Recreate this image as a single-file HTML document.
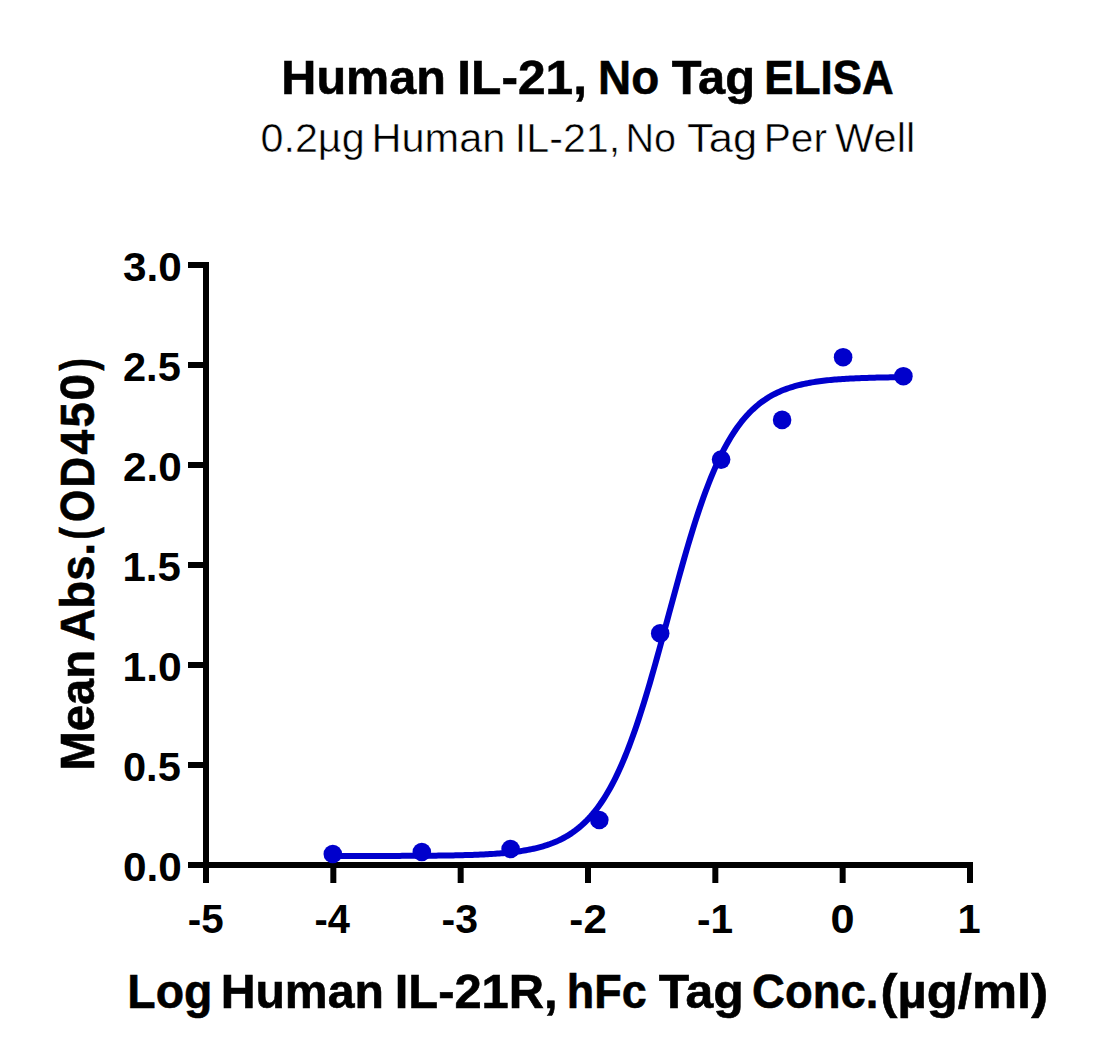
<!DOCTYPE html>
<html><head><meta charset="utf-8"><style>
html,body{margin:0;padding:0;background:#fff;}
body{width:1102px;height:1064px;overflow:hidden;}
svg{display:block;}
text{font-family:"Liberation Sans",sans-serif;fill:#000;}
</style></head><body>
<svg width="1102" height="1064" viewBox="0 0 1102 1064">
<text x="281.34" y="94.3" font-size="48.7" font-weight="bold" stroke="#000" stroke-width="0.6" textLength="164.58" lengthAdjust="spacingAndGlyphs">Human</text>
<text x="457.27" y="94.3" font-size="48.7" font-weight="bold" stroke="#000" stroke-width="0.6" textLength="129.70" lengthAdjust="spacingAndGlyphs">IL-21,</text>
<text x="598.07" y="94.3" font-size="48.7" font-weight="bold" stroke="#000" stroke-width="0.6" textLength="61.13" lengthAdjust="spacingAndGlyphs">No</text>
<text x="671.83" y="94.3" font-size="48.7" font-weight="bold" stroke="#000" stroke-width="0.6" textLength="83.14" lengthAdjust="spacingAndGlyphs">Tag</text>
<text x="764.37" y="94.3" font-size="48.7" font-weight="bold" stroke="#000" stroke-width="0.6" textLength="129.28" lengthAdjust="spacingAndGlyphs">ELISA</text>
<text x="260.47" y="151.5" font-size="40" stroke="#fff" stroke-width="0.5" textLength="104.12" lengthAdjust="spacingAndGlyphs">0.2µg</text>
<text x="371.41" y="151.5" font-size="40" stroke="#fff" stroke-width="0.5" textLength="133.96" lengthAdjust="spacingAndGlyphs">Human</text>
<text x="514.71" y="151.5" font-size="40" stroke="#fff" stroke-width="0.5" textLength="105.57" lengthAdjust="spacingAndGlyphs">IL-21,</text>
<text x="625.46" y="151.5" font-size="40" stroke="#fff" stroke-width="0.5" textLength="50.59" lengthAdjust="spacingAndGlyphs">No</text>
<text x="687.07" y="151.5" font-size="40" stroke="#fff" stroke-width="0.5" textLength="70.26" lengthAdjust="spacingAndGlyphs">Tag</text>
<text x="763.74" y="151.5" font-size="40" stroke="#fff" stroke-width="0.5" textLength="63.29" lengthAdjust="spacingAndGlyphs">Per</text>
<text x="835.13" y="151.5" font-size="40" stroke="#fff" stroke-width="0.5" textLength="80.02" lengthAdjust="spacingAndGlyphs">Well</text>
<text x="127.34" y="1008.3" font-size="48.8" font-weight="bold" stroke="#000" stroke-width="0.6" textLength="85.05" lengthAdjust="spacingAndGlyphs">Log</text>
<text x="220.66" y="1008.3" font-size="48.8" font-weight="bold" stroke="#000" stroke-width="0.6" textLength="163.24" lengthAdjust="spacingAndGlyphs">Human</text>
<text x="394.75" y="1008.3" font-size="48.8" font-weight="bold" stroke="#000" stroke-width="0.6" textLength="162.87" lengthAdjust="spacingAndGlyphs">IL-21R,</text>
<text x="566.85" y="1008.3" font-size="48.8" font-weight="bold" stroke="#000" stroke-width="0.6" textLength="79.93" lengthAdjust="spacingAndGlyphs">hFc</text>
<text x="658.69" y="1008.3" font-size="48.8" font-weight="bold" stroke="#000" stroke-width="0.6" textLength="85.01" lengthAdjust="spacingAndGlyphs">Tag</text>
<text x="752.09" y="1008.3" font-size="48.8" font-weight="bold" stroke="#000" stroke-width="0.6" textLength="126.28" lengthAdjust="spacingAndGlyphs">Conc.</text>
<text x="880.64" y="1008.3" font-size="48.8" font-weight="bold" stroke="#000" stroke-width="0.6" textLength="167.42" lengthAdjust="spacingAndGlyphs">(µg/ml)</text>
<text transform="translate(94.1,770.56) rotate(-90)" font-size="48.8" font-weight="bold" stroke="#000" stroke-width="0.6" textLength="120.69" lengthAdjust="spacingAndGlyphs">Mean</text>
<text transform="translate(94.1,641.59) rotate(-90)" font-size="48.8" font-weight="bold" stroke="#000" stroke-width="0.6" textLength="98.81" lengthAdjust="spacingAndGlyphs">Abs.</text>
<text transform="translate(94.1,539.69) rotate(-90)" font-size="48.8" font-weight="bold" stroke="#000" stroke-width="0.6" textLength="12.56" lengthAdjust="spacingAndGlyphs">(</text>
<text transform="translate(94.1,522.12) rotate(-90)" font-size="48.8" font-weight="bold" stroke="#000" stroke-width="0.6" textLength="32.37" lengthAdjust="spacingAndGlyphs">O</text>
<text transform="translate(94.1,487.51) rotate(-90)" font-size="48.8" font-weight="bold" stroke="#000" stroke-width="0.6" textLength="30.43" lengthAdjust="spacingAndGlyphs">D</text>
<text transform="translate(94.1,454.66) rotate(-90)" font-size="48.8" font-weight="bold" stroke="#000" stroke-width="0.6" textLength="24.89" lengthAdjust="spacingAndGlyphs">4</text>
<text transform="translate(94.1,427.56) rotate(-90)" font-size="48.8" font-weight="bold" stroke="#000" stroke-width="0.6" textLength="25.35" lengthAdjust="spacingAndGlyphs">5</text>
<text transform="translate(94.1,400.54) rotate(-90)" font-size="48.8" font-weight="bold" stroke="#000" stroke-width="0.6" textLength="26.57" lengthAdjust="spacingAndGlyphs">0</text>
<text transform="translate(94.1,370.60) rotate(-90)" font-size="48.8" font-weight="bold" stroke="#000" stroke-width="0.6" textLength="12.45" lengthAdjust="spacingAndGlyphs">)</text>
<text x="122.93" y="881.1" font-size="40" font-weight="bold" textLength="58.86" lengthAdjust="spacingAndGlyphs">0.0</text>
<text x="122.97" y="781.1" font-size="40" font-weight="bold" textLength="57.82" lengthAdjust="spacingAndGlyphs">0.5</text>
<text x="122.46" y="681.1" font-size="40" font-weight="bold" textLength="59.31" lengthAdjust="spacingAndGlyphs">1.0</text>
<text x="122.48" y="581.1" font-size="40" font-weight="bold" textLength="58.32" lengthAdjust="spacingAndGlyphs">1.5</text>
<text x="122.94" y="481.1" font-size="40" font-weight="bold" textLength="58.84" lengthAdjust="spacingAndGlyphs">2.0</text>
<text x="122.97" y="381.1" font-size="40" font-weight="bold" textLength="57.82" lengthAdjust="spacingAndGlyphs">2.5</text>
<text x="122.98" y="281.1" font-size="40" font-weight="bold" textLength="58.82" lengthAdjust="spacingAndGlyphs">3.0</text>
<text x="187.81" y="933.4" font-size="40" font-weight="bold" textLength="35.88" lengthAdjust="spacingAndGlyphs">-5</text>
<text x="314.57" y="933.4" font-size="40" font-weight="bold" textLength="35.43" lengthAdjust="spacingAndGlyphs">-4</text>
<text x="441.57" y="933.4" font-size="40" font-weight="bold" textLength="36.50" lengthAdjust="spacingAndGlyphs">-3</text>
<text x="569.37" y="933.4" font-size="40" font-weight="bold" textLength="37.51" lengthAdjust="spacingAndGlyphs">-2</text>
<text x="696.96" y="933.4" font-size="40" font-weight="bold" textLength="36.12" lengthAdjust="spacingAndGlyphs">-1</text>
<text x="830.63" y="933.4" font-size="40" font-weight="bold" textLength="24.05" lengthAdjust="spacingAndGlyphs">0</text>
<text x="957.62" y="933.4" font-size="40" font-weight="bold" textLength="23.21" lengthAdjust="spacingAndGlyphs">1</text>
<g stroke="#000" stroke-width="6" fill="none">
<line x1="206" y1="262" x2="206" y2="868"/>
<line x1="203" y1="865" x2="973" y2="865"/>
<line x1="188" y1="865" x2="206" y2="865"/>
<line x1="188" y1="765" x2="206" y2="765"/>
<line x1="188" y1="665" x2="206" y2="665"/>
<line x1="188" y1="565" x2="206" y2="565"/>
<line x1="188" y1="465" x2="206" y2="465"/>
<line x1="188" y1="365" x2="206" y2="365"/>
<line x1="188" y1="265" x2="206" y2="265"/>
<line x1="206.00" y1="865" x2="206.00" y2="883"/>
<line x1="333.33" y1="865" x2="333.33" y2="883"/>
<line x1="460.67" y1="865" x2="460.67" y2="883"/>
<line x1="588.00" y1="865" x2="588.00" y2="883"/>
<line x1="715.33" y1="865" x2="715.33" y2="883"/>
<line x1="842.66" y1="865" x2="842.66" y2="883"/>
<line x1="970.00" y1="865" x2="970.00" y2="883"/>
</g>
<polyline points="333.33,855.98 335.24,855.98 337.15,855.98 339.05,855.98 340.96,855.98 342.87,855.97 344.77,855.97 346.68,855.97 348.59,855.97 350.49,855.97 352.40,855.97 354.31,855.97 356.21,855.96 358.12,855.96 360.03,855.96 361.93,855.96 363.84,855.96 365.74,855.95 367.65,855.95 369.56,855.95 371.46,855.95 373.37,855.94 375.28,855.94 377.18,855.94 379.09,855.93 381.00,855.93 382.90,855.92 384.81,855.92 386.72,855.92 388.62,855.91 390.53,855.91 392.44,855.90 394.34,855.90 396.25,855.89 398.16,855.88 400.06,855.88 401.97,855.87 403.88,855.86 405.78,855.85 407.69,855.84 409.60,855.84 411.50,855.83 413.41,855.82 415.32,855.81 417.22,855.79 419.13,855.78 421.04,855.77 422.94,855.75 424.85,855.74 426.76,855.72 428.66,855.71 430.57,855.69 432.48,855.67 434.38,855.65 436.29,855.63 438.20,855.61 440.10,855.59 442.01,855.56 443.92,855.54 445.82,855.51 447.73,855.48 449.63,855.45 451.54,855.41 453.45,855.38 455.35,855.34 457.26,855.30 459.17,855.26 461.07,855.21 462.98,855.17 464.89,855.12 466.79,855.06 468.70,855.01 470.61,854.95 472.51,854.88 474.42,854.82 476.33,854.74 478.23,854.67 480.14,854.59 482.05,854.50 483.95,854.41 485.86,854.32 487.77,854.22 489.67,854.11 491.58,853.99 493.49,853.87 495.39,853.74 497.30,853.61 499.21,853.46 501.11,853.31 503.02,853.15 504.93,852.97 506.83,852.79 508.74,852.60 510.65,852.39 512.55,852.18 514.46,851.95 516.37,851.70 518.27,851.44 520.18,851.17 522.09,850.88 523.99,850.57 525.90,850.25 527.80,849.90 529.71,849.53 531.62,849.15 533.52,848.74 535.43,848.30 537.34,847.84 539.24,847.35 541.15,846.84 543.06,846.29 544.96,845.71 546.87,845.10 548.78,844.46 550.68,843.77 552.59,843.05 554.50,842.28 556.40,841.47 558.31,840.62 560.22,839.71 562.12,838.76 564.03,837.75 565.94,836.69 567.84,835.56 569.75,834.37 571.66,833.12 573.56,831.80 575.47,830.41 577.38,828.94 579.28,827.39 581.19,825.76 583.10,824.04 585.00,822.23 586.91,820.33 588.82,818.33 590.72,816.23 592.63,814.02 594.54,811.70 596.44,809.27 598.35,806.72 600.26,804.05 602.16,801.25 604.07,798.32 605.98,795.25 607.88,792.05 609.79,788.70 611.69,785.21 613.60,781.57 615.51,777.78 617.41,773.84 619.32,769.74 621.23,765.48 623.13,761.07 625.04,756.49 626.95,751.75 628.85,746.85 630.76,741.80 632.67,736.58 634.57,731.20 636.48,725.68 638.39,720.00 640.29,714.17 642.20,708.20 644.11,702.10 646.01,695.86 647.92,689.50 649.83,683.03 651.73,676.45 653.64,669.77 655.55,663.00 657.45,656.16 659.36,649.24 661.27,642.27 663.17,635.26 665.08,628.21 666.99,621.15 668.89,614.07 670.80,607.00 672.71,599.94 674.61,592.92 676.52,585.93 678.43,579.00 680.33,572.13 682.24,565.34 684.15,558.63 686.05,552.01 687.96,545.50 689.86,539.10 691.77,532.83 693.68,526.68 695.58,520.66 697.49,514.79 699.40,509.06 701.30,503.48 703.21,498.06 705.12,492.79 707.02,487.67 708.93,482.72 710.84,477.93 712.74,473.30 714.65,468.83 716.56,464.52 718.46,460.37 720.37,456.37 722.28,452.53 724.18,448.85 726.09,445.31 728.00,441.91 729.90,438.67 731.81,435.55 733.72,432.58 735.62,429.74 737.53,427.02 739.44,424.43 741.34,421.96 743.25,419.60 745.16,417.36 747.06,415.22 748.97,413.19 750.88,411.26 752.78,409.42 754.69,407.67 756.60,406.01 758.50,404.44 760.41,402.94 762.32,401.52 764.22,400.18 766.13,398.90 768.04,397.69 769.94,396.55 771.85,395.46 773.75,394.44 775.66,393.46 777.57,392.54 779.47,391.67 781.38,390.85 783.29,390.07 785.19,389.33 787.10,388.63 789.01,387.98 790.91,387.35 792.82,386.76 794.73,386.21 796.63,385.68 798.54,385.19 800.45,384.72 802.35,384.27 804.26,383.85 806.17,383.46 808.07,383.09 809.98,382.73 811.89,382.40 813.79,382.09 815.70,381.79 817.61,381.51 819.51,381.25 821.42,381.00 823.33,380.77 825.23,380.54 827.14,380.34 829.05,380.14 830.95,379.95 832.86,379.78 834.77,379.61 836.67,379.45 838.58,379.31 840.49,379.17 842.39,379.04 844.30,378.91 846.21,378.80 848.11,378.69 850.02,378.58 851.92,378.49 853.83,378.39 855.74,378.31 857.64,378.22 859.55,378.15 861.46,378.07 863.36,378.01 865.27,377.94 867.18,377.88 869.08,377.82 870.99,377.77 872.90,377.72 874.80,377.67 876.71,377.62 878.62,377.58 880.52,377.54 882.43,377.50 884.34,377.47 886.24,377.43 888.15,377.40 890.06,377.37 891.96,377.34 893.87,377.31 895.78,377.29 897.68,377.26 899.59,377.24 901.50,377.22 903.40,377.20" fill="none" stroke="#0000cc" stroke-width="6" stroke-linejoin="round"/>
<g fill="#0000cc">
<circle cx="332.8" cy="854" r="9.3"/>
<circle cx="421.8" cy="852" r="9.3"/>
<circle cx="510.6" cy="849" r="9.3"/>
<circle cx="599.3" cy="820" r="9.3"/>
<circle cx="660.2" cy="633.4" r="9.3"/>
<circle cx="721.1" cy="459.6" r="9.3"/>
<circle cx="782.1" cy="419.9" r="9.3"/>
<circle cx="843.1" cy="357.2" r="9.3"/>
<circle cx="903.4" cy="376.2" r="9.3"/>
</g>
</svg>
</body></html>
